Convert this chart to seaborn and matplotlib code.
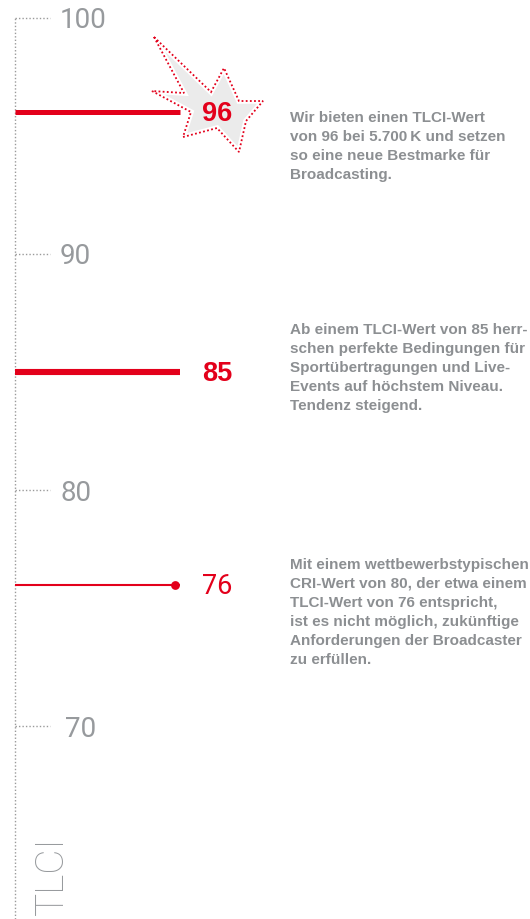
import matplotlib
matplotlib.use('Agg')
import matplotlib.pyplot as plt
from matplotlib.patches import Polygon
from matplotlib.transforms import Affine2D
import seaborn as sns

# data
TICKS = [100, 90, 80, 70]
VALUES = [96, 85, 76]
VALUE_LABELS = ['96', '85', '76']
AXIS_LABEL = 'TLCI'
DESCRIPTIONS = [
    'Wir bieten einen TLCI-Wert\nvon 96 bei 5.700\u2009K und setzen\nso eine neue Bestmarke für\nBroadcasting.',
    'Ab einem TLCI-Wert von 85 herr-\nschen perfekte Bedingungen für\nSportübertragungen und Live-\nEvents auf höchstem Niveau.\nTendenz steigend.',
    'Mit einem wettbewerbstypischen\nCRI-Wert von 80, der etwa einem\nTLCI-Wert von 76 entspricht,\nist es nicht möglich, zukünftige\nAnforderungen der Broadcaster\nzu erfüllen.',
]

RED = '#e3001b'
GRAY = '#8c8f92'
TICK_GRAY = '#979a9d'
DOT = '#9a9a9a'

W, H = 530, 919
PX_PER_UNIT = 23.63
TOP_PX = 17.5


def py(px):
    # pixel row -> value on the TLCI scale
    return 100 - (px - TOP_PX) / PX_PER_UNIT


sns.set_style('white')
fig = plt.figure(figsize=(W / 100, H / 100), dpi=100)
ax = fig.add_axes([0, 0, 1, 1])
ax.set_xlim(0, W)
ax.set_ylim(py(H), py(0))
ax.axis('off')

# dotted scale line + ticks
ax.vlines(15, py(H), max(TICKS), color=DOT, lw=1, linestyles=(0, (1, 1.5)))
for t in TICKS:
    ax.hlines(t, 15, 50, color=DOT, lw=1, linestyles=(0, (1, 1.5)))
    ax.text(60 if t != 70 else 65, t - 3 / PX_PER_UNIT, str(t), ha='left', va='center',
            fontsize=20, color=TICK_GRAY, family='Roboto', fontweight='normal')

# bars
widths = [3.6, 4.4, 1.5]
for v, lw in zip(VALUES, widths):
    ax.hlines(v, 15, 180, color=RED, lw=lw, zorder=3)
sns.scatterplot(x=[175], y=[VALUES[2]], color=RED, s=40, edgecolor=RED,
                linewidth=0, ax=ax, zorder=4)

# star behind the top value
fig.canvas.draw()
anchor = ax.transData.transform((217, VALUES[0]))
star = [(-63, -75), (-6, -20), (7, -44), (22, -11), (46, -11), (29, 9),
        (22, 40), (0, 16), (-34, 25), (-26, 0), (-65, -21), (-33, -19)]
tr = Affine2D().scale(1, -1).translate(*anchor)
ax.add_patch(Polygon(star, closed=True, transform=tr, facecolor='#ebebeb',
                     edgecolor='white', lw=4, zorder=5))
ax.add_patch(Polygon(star, closed=True, transform=tr, facecolor='none',
                     edgecolor=RED, lw=1.3, linestyle=(0, (1, 1.3)), zorder=6))

# value labels
for i, (v, lab) in enumerate(zip(VALUES, VALUE_LABELS)):
    bold = i < 2
    ax.text(217, v - 2 / PX_PER_UNIT, lab, ha='center', va='center', fontsize=19.5,
            color=RED, family='Liberation Sans' if bold else 'Roboto',
            fontweight='bold' if bold else 'normal', zorder=7)

# descriptions
desc_top = [111, 323, 558]
for txt, top in zip(DESCRIPTIONS, desc_top):
    ax.text(290, py(top), txt, ha='left', va='top', fontsize=11, color=GRAY,
            family='Liberation Sans', fontweight='bold', linespacing=1.45)

# axis title
ax.text(52, py(836), AXIS_LABEL, rotation=90, ha='center', va='top',
        fontsize=28, color=TICK_GRAY, family='Roboto', fontweight='light')

fig.savefig('out.png', dpi=100)
